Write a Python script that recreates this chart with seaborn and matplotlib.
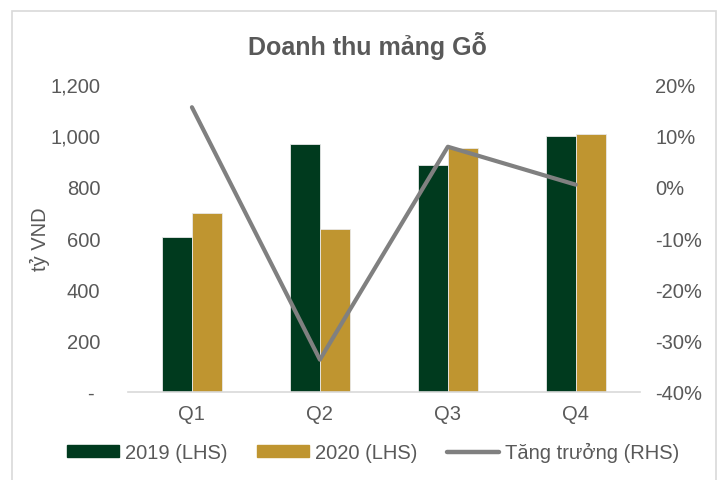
import pandas as pd
import numpy as np
import matplotlib.pyplot as plt
import seaborn as sb
from matplotlib.patches import Rectangle, Patch
from matplotlib.lines import Line2D
from matplotlib.ticker import FuncFormatter

quarters = ["Q1", "Q2", "Q3", "Q4"]
rev_2019 = [605, 966, 883, 998]
rev_2020 = [698, 637, 951, 1005]
growth = [15.5, -33.7, 7.8, 0.4]

c2019 = "#003A1E"
c2020 = "#BF9530"
cline = "#808080"
txt = "#595959"

sb.set_style("white")
plt.rcParams['font.family'] = ['Liberation Sans', 'DejaVu Sans']

df = pd.DataFrame({
    "quarter": quarters * 2,
    "year": ["2019 (LHS)"] * 4 + ["2020 (LHS)"] * 4,
    "value": rev_2019 + rev_2020,
})

fig = plt.figure(figsize=(7.27, 4.81), dpi=100)
ax = fig.add_axes([0.176, 0.183, 0.704, 0.640])
sb.barplot(data=df, x="quarter", y="value", hue="year", palette=[c2019, c2020],
           width=0.47, saturation=1, edgecolor="#E8E8E8", linewidth=0.6,
           ax=ax, legend=False)
ax.set_ylim(0, 1200)
ax.set_yticks(np.arange(0, 1201, 200))
ax.yaxis.set_major_formatter(FuncFormatter(lambda v, p: "- " if v == 0 else f"{int(v):,}"))
ax.set_xlim(-0.5, 3.5)
ax.set_xlabel("")
ax.set_ylabel("tỷ VND", fontsize=14.5, color=txt, labelpad=0)
ax.yaxis.set_label_coords(-0.152, 0.5)
ax.tick_params(axis="both", length=0, labelsize=14.5, labelcolor=txt)
ax.tick_params(axis="x", pad=9)
ax.tick_params(axis="y", pad=20)
for s in ["top", "left", "right"]:
    ax.spines[s].set_visible(False)
ax.spines["bottom"].set_color("#D9D9D9")
ax.spines["bottom"].set_linewidth(1.2)

ax2 = ax.twinx()
gdf = pd.DataFrame({"quarter": quarters, "growth": growth})
sb.lineplot(data=gdf, x="quarter", y="growth", color=cline, linewidth=3.0,
            sort=False, ax=ax2)
ax2.set_ylim(-40, 20)
ax2.set_yticks(np.arange(-40, 21, 10))
ax2.yaxis.set_major_formatter(FuncFormatter(lambda v, p: f"{int(v)}%"))
ax2.set_ylabel("")
ax2.tick_params(axis="y", length=0, labelsize=14.5, labelcolor=txt, pad=11)
for s in ["top", "left", "right", "bottom"]:
    ax2.spines[s].set_visible(False)
ax.set_xlim(-0.5, 3.5)

fig.text(0.505, 0.905, "Doanh thu mảng Gỗ", ha="center", va="center",
         fontsize=18, fontweight="bold", color=txt)

handles = [Patch(facecolor=c2019, edgecolor=c2019),
           Patch(facecolor=c2020, edgecolor=c2020),
           Line2D([0], [0], color=cline, linewidth=3.2)]
labels = ["2019 (LHS)", "2020 (LHS)", "Tăng trưởng (RHS)"]
leg = fig.legend(handles, labels, loc="center", bbox_to_anchor=(0.513, 0.058),
                 ncol=3, frameon=False, fontsize=14.5, handlelength=2.6,
                 handleheight=0.55, columnspacing=1.45, handletextpad=0.3)
for t in leg.get_texts():
    t.set_color(txt)

fig.patches.append(Rectangle((12 / 727, -0.02), 704 / 727, 1 - 12 / 481 + 0.02,
                             transform=fig.transFigure, fill=False,
                             edgecolor="#D9D9D9", linewidth=1.2))

fig.savefig("out.png", dpi=100)
